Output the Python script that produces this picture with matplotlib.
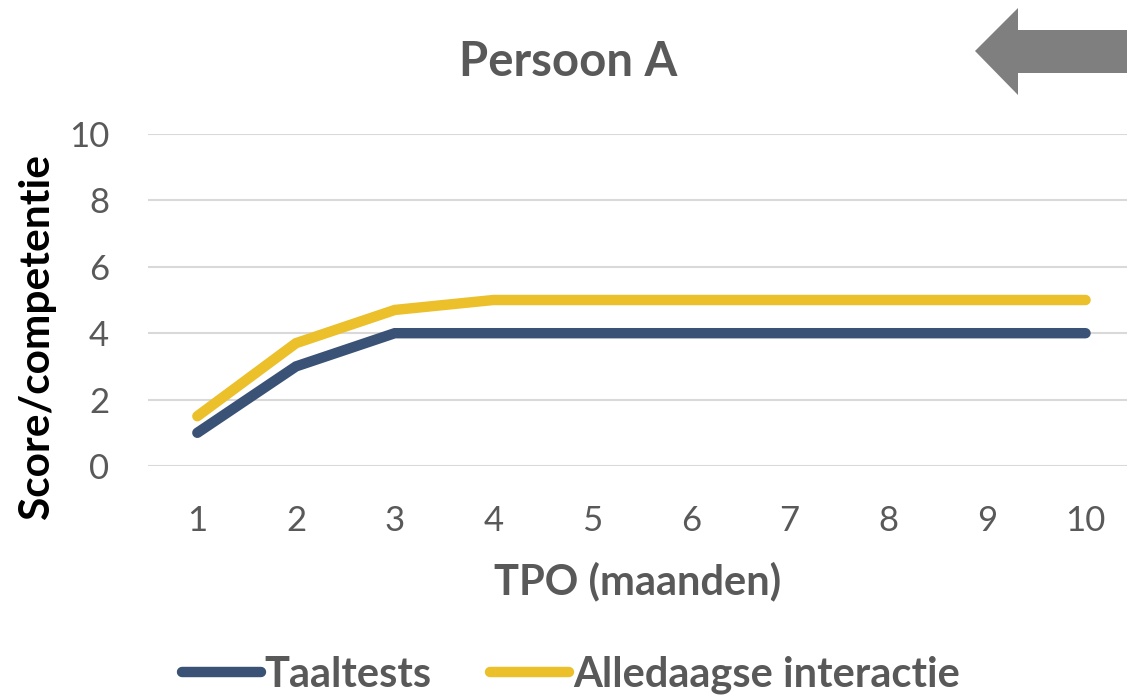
import matplotlib.pyplot as plt
from matplotlib.patches import Polygon
from matplotlib.lines import Line2D

# data
maanden = [1, 2, 3, 4, 5, 6, 7, 8, 9, 10]
taaltests = [1, 3, 4, 4, 4, 4, 4, 4, 4, 4]
alledaags = [1.5, 3.7, 4.7, 5, 5, 5, 5, 5, 5, 5]
series_names = ["Taaltests", "Alledaagse interactie"]
series_colors = ["#3A5275", "#EBC02A"]

grey = "#595959"
plt.rcParams["font.family"] = ["Lato", "DejaVu Sans"]

fig = plt.figure(figsize=(11.27, 6.98), dpi=100)
ax = fig.add_axes([148 / 1127, (698 - 466) / 698, (1127 - 148) / 1127, 332 / 698])

for vals, col in zip([taaltests, alledaags], series_colors):
    ax.plot(maanden, vals, color=col, lw=7.5, solid_capstyle="round", solid_joinstyle="miter")

ax.set_xlim(0.5, 10.42)
ax.set_ylim(0, 10)
ax.set_yticks(range(0, 11, 2))
ax.set_xticks(maanden)
ax.grid(axis="y", color="#D9D9D9", lw=1.5)
ax.set_axisbelow(True)
for s in ax.spines.values():
    s.set_visible(False)
ax.tick_params(axis="both", length=0, labelsize=25, labelcolor=grey)
ax.tick_params(axis="x", pad=28)
ax.tick_params(axis="y", pad=28)

ax.set_xlabel("TPO (maanden)", fontsize=30, fontweight="bold", color=grey, labelpad=18)
ax.set_ylabel("Score/competentie", fontsize=30.5, fontweight="bold", color="black")
ax.yaxis.set_label_coords(-0.094, 0.39)

fig.text(568 / 1127, 1 - 62 / 698, "Persoon A", ha="center", va="center",
         fontsize=34, fontweight="bold", color=grey)

# arrow top right
pts = [(975, 51), (1018, 8), (1018, 30), (1127, 30), (1127, 73), (1018, 73), (1018, 95)]
arrow = Polygon([(x / 1127, 1 - y / 698) for x, y in pts], closed=True,
                facecolor="#7F7F7F", edgecolor="none", transform=fig.transFigure)
fig.patches.append(arrow)

handles = [Line2D([], [], color=c, lw=7.5, solid_capstyle="round") for c in series_colors]
leg = fig.legend(handles, series_names, loc="center", bbox_to_anchor=(571 / 1127, 1 - 675 / 698),
                 ncol=2, frameon=False, handlelength=1.9, handletextpad=0.1, columnspacing=1.4,
                 prop={"size": 30, "weight": "bold"})
for t in leg.get_texts():
    t.set_color(grey)

fig.savefig("out.png", dpi=100)
